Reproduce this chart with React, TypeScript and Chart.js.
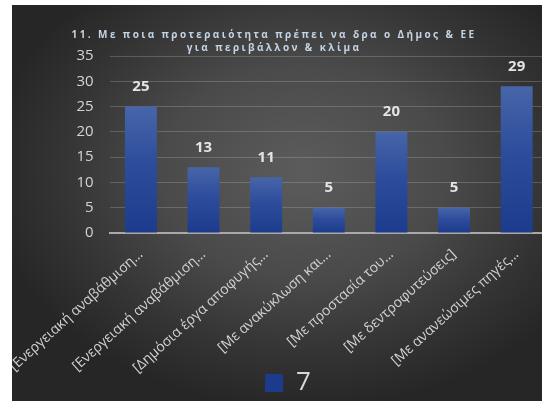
import React, { useEffect, useRef } from 'react';
import { Chart, registerables } from 'chart.js';

Chart.register(...registerables);

const TITLE_LINES = [
  '11. Με ποια προτεραιότητα πρέπει να δρα ο Δήμος & ΕΕ',
  'για περιβάλλον & κλίμα',
];
const CATEGORIES = [
  '[Ενεργειακή αναβάθμιση...',
  '[Ενεργειακή αναβάθμιση...',
  '[Δημόσια έργα αποφυγής...',
  '[Με ανακύκλωση και...',
  '[Με προστασία του...',
  '[Με δεντροφυτεύσεις]',
  '[Με ανανεώσιμες πηγές...',
];
const SERIES_NAME = '7';
const VALUES = [25, 13, 11, 5, 20, 5, 29];
const Y_MIN = 0;
const Y_MAX = 35;
const Y_STEP = 5;

const FONT = '"Open Sans", "DejaVu Sans", sans-serif';

export default function App() {
  const ref = useRef<HTMLCanvasElement | null>(null);

  useEffect(() => {
    const canvas = ref.current;
    if (!canvas) return;

    const titlePlugin = {
      id: 'customTitle',
      afterDraw(chart: any) {
        const ctx = chart.ctx;
        ctx.save();
        ctx.font = `bold 10px ${FONT}`;
        try { (ctx as any).letterSpacing = '2.4px'; } catch (e) {}
        ctx.fillStyle = '#c4d4e4';
        ctx.textAlign = 'center';
        ctx.textBaseline = 'middle';
        const cx = 262;
        TITLE_LINES.forEach((line, i) => {
          ctx.fillText(line, cx, 30 + i * 13);
        });
        ctx.restore();
      },
    };

    const valueLabels = {
      id: 'valueLabels',
      afterDatasetsDraw(chart: any) {
        const ctx = chart.ctx;
        const meta = chart.getDatasetMeta(0);
        ctx.save();
        ctx.font = `bold 15px ${FONT}`;
        ctx.fillStyle = '#e4e4e4';
        ctx.textAlign = 'center';
        ctx.textBaseline = 'middle';
        meta.data.forEach((bar: any, i: number) => {
          ctx.fillText(String(VALUES[i]), bar.x, bar.y - 20);
        });
        ctx.restore();
      },
    };

    const chart = new Chart(canvas, {
      type: 'bar',
      data: {
        labels: CATEGORIES,
        datasets: [
          {
            label: SERIES_NAME,
            data: VALUES,
            backgroundColor: (c: any) => {
              const ch = c.chart;
              const area = ch.chartArea;
              if (c.dataIndex === undefined || !area || !ch.scales.y) return '#2c52aa';
              const top = ch.scales.y.getPixelForValue(VALUES[c.dataIndex]);
              const g = ch.ctx.createLinearGradient(0, top, 0, area.bottom);
              g.addColorStop(0, '#4765a8');
              g.addColorStop(0.45, '#2d4d9c');
              g.addColorStop(1, '#1c3b8c');
              return g;
            },
            borderWidth: 0,
            categoryPercentage: 1,
            barPercentage: 0.51,
          },
        ],
      },
      options: {
        responsive: false,
        animation: false,
        devicePixelRatio: 1,
        layout: { padding: { top: 51, right: 4, left: 16, bottom: -5 } },
        plugins: {
          title: { display: false },
          tooltip: { enabled: false },
          legend: {
            display: true,
            position: 'bottom',
            labels: {
              color: '#d8d8d8',
              font: { family: FONT, size: 26 },
              boxWidth: 18,
              boxHeight: 18,
              padding: 3,
            },
          },
        },
        scales: {
          x: {
            afterFit: (s: any) => {
              s.height = 134;
              s.paddingLeft = 0;
              s.paddingRight = 0;
              s._computeLabelArea = () => undefined;
            },
            grid: { display: false, drawTicks: false },
            border: { display: true, color: '#a9a9a9', width: 2 },
            ticks: {
              color: '#d2d2d2',
              font: { family: FONT, size: 14 },
              minRotation: 42,
              maxRotation: 42,
              autoSkip: false,
              padding: 13,
            },
          },
          y: {
            min: Y_MIN,
            max: Y_MAX,
            afterFit: (s: any) => { s.width = 81.6; },
            grid: { color: 'rgba(190,190,190,0.28)', lineWidth: 1, drawTicks: false },
            border: { display: false },
            ticks: {
              stepSize: Y_STEP,
              color: '#d4d4d4',
              font: { family: FONT, size: 15 },
              padding: 16,
            },
          },
        },
      },
      plugins: [titlePlugin, valueLabels],
    } as any);

    return () => chart.destroy();
  }, []);

  return (
    <div
      style={{
        position: 'fixed',
        left: 0,
        top: 0,
        width: 542,
        height: 401,
        background: '#ffffff',
        overflow: 'hidden',
      }}
    >
      <div
        style={{
          position: 'absolute',
          left: 12,
          top: 5,
          width: 530,
          height: 396,
          overflow: 'hidden',
          background:
            'radial-gradient(ellipse 60% 60% at 55% 42%, #5c5c5c 0%, #4a4a4a 45%, #353535 75%, #262626 100%)',
        }}
      >
        <canvas
          ref={ref}
          width={540}
          height={396}
          style={{ position: 'absolute', left: 0, top: 0, width: 540, height: 396 }}
        />
      </div>
    </div>
  );
}
